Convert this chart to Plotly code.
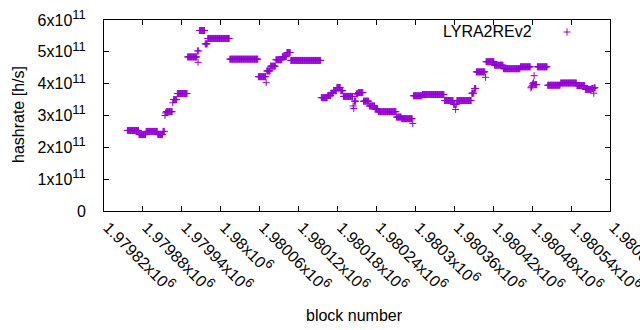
import plotly.graph_objects as go

# ---- data (block offset runs relative to BASE, hashrate in 1e11 h/s) ----
BASE = 1979820
run_start = [36, 54, 65, 83, 91, 94, 95, 96, 106, 107, 113, 129, 144, 145, 146, 147, 156, 160,
             194, 238, 250, 251, 257, 265, 275, 282, 288, 335, 345, 350, 354, 359, 365, 369,
             384, 385, 386, 389, 392, 400, 409, 418, 423, 451, 459, 476, 477, 491, 525, 539,
             542, 543, 544, 567, 571, 574, 588, 589, 602, 616, 642, 658, 659, 660, 661, 662,
             663, 664, 668, 684, 704, 729, 742, 752, 755, 756]
run_end = [53, 64, 82, 90, 93, 94, 95, 105, 106, 112, 128, 143, 144, 145, 146, 155, 159, 193,
           237, 249, 250, 256, 264, 274, 281, 287, 334, 344, 349, 353, 358, 364, 368, 383,
           384, 385, 388, 391, 399, 408, 417, 422, 450, 458, 475, 476, 490, 524, 538, 541,
           542, 543, 566, 570, 573, 587, 588, 601, 615, 641, 657, 658, 659, 660, 661, 662,
           663, 667, 683, 703, 728, 741, 751, 754, 755, 757]
run_value = [2.53, 2.40, 2.50, 2.40, 2.50, 3.00, 3.08, 3.12, 3.40, 3.50, 3.69, 4.84, 5.03, 4.67,
             5.03, 5.67, 5.25, 5.42, 4.77, 4.22, 4.03, 4.40, 4.55, 4.75, 4.85, 4.98, 4.73, 3.56,
             3.63, 3.70, 3.78, 3.88, 3.78, 3.60, 3.30, 3.22, 3.45, 3.68, 3.72, 3.45, 3.30, 3.20,
             3.12, 2.95, 2.90, 2.75, 3.62, 3.66, 3.47, 3.35, 3.19, 3.35, 3.47, 3.70, 3.85, 4.37,
             4.20, 4.69, 4.58, 4.47, 4.53, 3.87, 3.90, 3.95, 4.00, 4.03, 4.25, 3.97, 4.53, 3.95,
             4.02, 3.94, 3.82, 3.85, 3.70, 3.87]

x_tickvals = [1979820, 1979880, 1979940, 1980000, 1980060, 1980120, 1980180, 1980240,
              1980300, 1980360, 1980420, 1980480, 1980540, 1980600]
x_ticklabels = ["1.97982", "1.97988", "1.97994", "1.98", "1.98006", "1.98012", "1.98018",
                "1.98024", "1.9803", "1.98036", "1.98042", "1.98048", "1.98054", "1.9806"]
y_tickvals = [0, 1e11, 2e11, 3e11, 4e11, 5e11, 6e11]
y_ticklabels = ["0", "1", "2", "3", "4", "5", "6"]

blocks, rates = [], []
for s, e, v in zip(run_start, run_end, run_value):
    for b in range(s, e + 1):
        blocks.append(BASE + b)
        rates.append(v * 1e11)

COLOR = "#9400D3"
FONT = "Liberation Sans, Arial, sans-serif"
SUP = "<sup><span style='font-size:13px'>%s</span></sup>"

fig = go.Figure()
fig.add_trace(go.Scatter(
    x=blocks, y=rates, mode="markers", name="LYRA2REv2",
    marker=dict(symbol="cross-thin", size=5, color=COLOR, line=dict(color=COLOR, width=1)),
    showlegend=False, hoverinfo="skip"))

L, R, T, B = 104, 30, 20, 119
W, H = 640, 330
pw, ph = W - L - R, H - T - B

def px(x):
    return (x - L) / pw

def py(y):
    return (H - B - y) / ph

fig.update_layout(
    width=W, height=H, margin=dict(l=L, r=R, t=T, b=B, autoexpand=False),
    paper_bgcolor="white", plot_bgcolor="white",
    font=dict(family=FONT, size=16, color="black"),
    xaxis=dict(range=[1979820, 1980600], tickvals=x_tickvals,
               ticktext=[t + "x10" + SUP % "6" for t in x_ticklabels],
               tickangle=45, ticks="inside", ticklen=5, tickcolor="black",
               showline=True, linecolor="black", linewidth=1, mirror="ticks",
               showgrid=False, zeroline=False, tickfont=dict(size=16),
               ticklabelstandoff=0, ticklabelshift=4, ticklabeloverflow="allow"),
    yaxis=dict(range=[0, 6e11], tickvals=y_tickvals,
               ticktext=["0"] + [t + "x10" + SUP % "11" for t in y_ticklabels[1:]],
               ticks="inside", ticklen=5, tickcolor="black",
               showline=True, linecolor="black", linewidth=1, mirror="ticks",
               showgrid=False, zeroline=False, tickfont=dict(size=16),
               ticklabelstandoff=14),
    annotations=[
        dict(text="hashrate [h/s]", xref="paper", yref="paper", x=px(18), y=py(115),
             textangle=-90, showarrow=False, xanchor="center", yanchor="middle"),
        dict(text="block number", xref="paper", yref="paper", x=px(354), y=py(315),
             showarrow=False, xanchor="center", yanchor="middle"),
        dict(text="LYRA2REv2", xref="paper", yref="paper", x=px(534), y=py(31),
             showarrow=False, xanchor="right", yanchor="middle"),
    ],
    shapes=[
        dict(type="line", xref="paper", yref="paper", x0=px(563.5), x1=px(570.5),
             y0=py(32), y1=py(32), line=dict(color=COLOR, width=1)),
        dict(type="line", xref="paper", yref="paper", x0=px(567), x1=px(567),
             y0=py(28.5), y1=py(35.5), line=dict(color=COLOR, width=1)),
    ],
)

fig.write_html("out.html", config={"displayModeBar": False, "responsive": False},
               post_script="document.body.style.margin='0';document.body.style.overflow='hidden';")
